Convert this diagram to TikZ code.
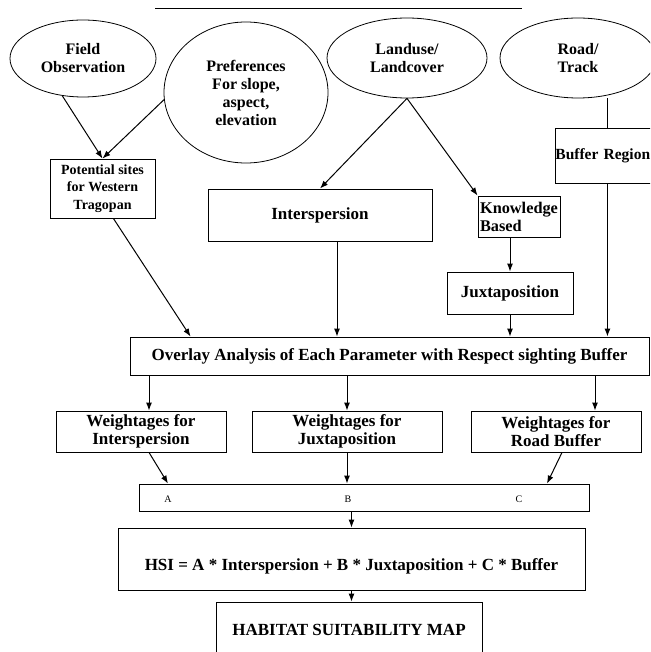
\documentclass[tikz,border=0pt]{standalone}
\usepackage{fontspec}
\setmainfont{Liberation Serif}
\usepackage{tikz}
\usetikzlibrary{positioning,shapes,fit,arrows,arrows.meta,calc}

\tikzset{
  bubble/.style={draw, ellipse, line width=0.8pt, inner sep=0pt, align=center,
    font=\bfseries\fontsize{16}{18}\selectfont},
  block/.style={draw, rectangle, line width=0.9pt, inner sep=1pt, align=center,
    font=\bfseries\fontsize{17}{18}\selectfont},
  flow/.style={-{Latex[length=8pt,width=6pt]}, line width=1pt}
}

\begin{document}
\begin{tikzpicture}[x=1pt,y=-1pt]
        \useasboundingbox (0,0) rectangle (650,652);
        \clip (0,0) rectangle (650,652);
        \draw[line width=0.9pt] (155,8) -- (522,8);% top rule
        \node[bubble, minimum width=146, minimum height=77] (field) at (83,58.5) {Field\\Observation};
        \node[bubble, minimum width=164, minimum height=141] (prefs) at (246,92.5) {Preferences\\For slope,\\aspect,\\elevation};
        \node[bubble, minimum width=160, minimum height=80] (landuse) at (407,58) {Landuse/\\Landcover};
        \node[bubble, minimum width=156, minimum height=80] (road) at (578,58) {Road/\\Track};
        \node[block, anchor=west, inner xsep=0pt, minimum height=55, text width=104pt, align=left,
          font=\bfseries\fontsize{15.5}{18}\selectfont] (buffer) at (555,155.5) {Buffer Region};
        \node[block, minimum width=105, minimum height=59, font=\bfseries\fontsize{14}{17.5}\selectfont] (potential) at (102.5,188.5) {Potential sites\\for Western\\Tragopan};
        \node[block, minimum width=224, minimum height=52] (inter) at (320,215) {Interspersion};
        \node[block, minimum width=82, minimum height=41, inner xsep=0.5pt, align=left,
          font=\bfseries\fontsize{16.3}{18}\selectfont] (know) at (519,216.5) {Knowledge\\Based};
        \node[block, minimum width=126, minimum height=42] (juxta) at (510,293) {Juxtaposition};
        \node[block, minimum width=519, minimum height=38] (overlay) at (389.5,356) {Overlay Analysis of Each Parameter with Respect sighting Buffer};
        \node[block, minimum width=170, minimum height=41] (wint) at (141,431.5) {Weightages for\\Interspersion};
        \node[block, minimum width=190, minimum height=41] (wjux) at (347,431.5) {Weightages for\\Juxtaposition};
        \node[block, minimum width=170, minimum height=41] (wroad) at (556,431.5) {Weightages for\\Road Buffer};
        \node[block, minimum width=450, minimum height=27] (abc) at (364,497.5) {};
        \node[font=\fontsize{10}{12}\selectfont] (wa) at (168,499) {A};
        \node[font=\fontsize{10}{12}\selectfont] (wb) at (348,499) {B};
        \node[font=\fontsize{10}{12}\selectfont] (wc) at (519,499) {C};
        \node[block, minimum width=467, minimum height=62, text height=25pt, text depth=3pt] (hsi) at (351.5,559) {HSI = A * Interspersion + B * Juxtaposition + C * Buffer};
        \node[block, minimum width=266, minimum height=56] (habitat) at (349,630) {HABITAT SUITABILITY MAP};
        % inputs
        \draw[flow] (field.241) -- (potential.north);
        \draw[flow] (prefs.185) -- (potential.north);
        \draw[flow] (landuse.south) -- (inter.north);
        \draw[flow] (landuse.south) -- (know.north west);
        \draw[line width=1pt] (buffer.north |- road.south) -- (buffer.north);
        \draw[flow] (juxta.north |- know.south) -- (juxta.north);
        % into the overlay
        \draw[flow] (potential.290) -- ($(overlay.north west)+(61,0)$);
        \draw[flow] ([xshift=17pt]inter.south) -- ([xshift=17pt]inter.south |- overlay.north);
        \draw[flow] (juxta.south) -- (juxta.south |- overlay.north);
        \draw[flow] (buffer.south) -- (buffer.south |- overlay.north);
        % weightages
        \draw[flow] ([xshift=8pt]wint.north |- overlay.south) -- ([xshift=8pt]wint.north);
        \draw[flow] (wjux.north |- overlay.south) -- (wjux.north);
        \draw[flow] ([xshift=39pt]wroad.north |- overlay.south) -- ([xshift=39pt]wroad.north);
        \draw[flow] ([xshift=8pt]wint.south) -- (wa |- abc.north);
        \draw[flow] (wjux.south) -- (wjux.south |- abc.north);
        \draw[flow] ([xshift=6pt]wroad.south) -- ([xshift=-9pt]wroad.south |- abc.north);
        \draw[flow] (hsi.north |- abc.south) -- (hsi.north);
        \draw[flow] (hsi.south) -- (hsi.south |- habitat.north);
      \end{tikzpicture}
\end{document}
